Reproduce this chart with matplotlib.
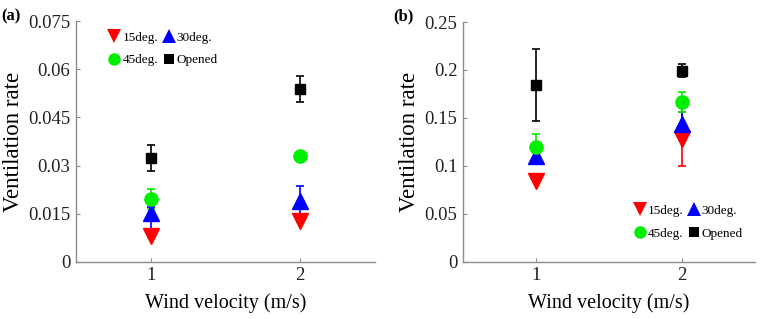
import matplotlib
matplotlib.use("Agg")
import matplotlib.pyplot as plt
from matplotlib.lines import Line2D

plt.rcParams['font.family'] = ['Liberation Serif', 'DejaVu Serif']

velocity = [1, 2]
labels = ['15deg.', '30deg.', '45deg.', 'Opened']
colors = ['#ff0000', '#0000ff', '#00ee00', '#000000']
markers = ['v', '^', 'o', 's']
msizes = [11, 11, 9.5, 7.5]

# Panel (a)
a_vals = {
    '15deg.': [0.0080, 0.0127],
    '30deg.': [0.0152, 0.0190],
    '45deg.': [0.0196, 0.0330],
    'Opened': [0.0324, 0.0538],
}
a_err_lo = {
    '15deg.': [0.0003, 0.0003],
    '30deg.': [0.0058, 0.0045],
    '45deg.': [0.0030, 0.0010],
    'Opened': [0.0040, 0.0040],
}
a_err_hi = {
    '15deg.': [0.0003, 0.0003],
    '30deg.': [0.0018, 0.0047],
    '45deg.': [0.0030, 0.0010],
    'Opened': [0.0040, 0.0040],
}
a_yticks = [0, 0.015, 0.03, 0.045, 0.06, 0.075]
a_yticklabels = ['0', '0.015', '0.03', '0.045', '0.06', '0.075']

# Panel (b)
b_vals = {
    '15deg.': [0.0840, 0.1280],
    '30deg.': [0.1100, 0.1440],
    '45deg.': [0.1200, 0.1665],
    'Opened': [0.1840, 0.1990],
}
b_err = {
    '15deg.': [0.0010, 0.0285],
    '30deg.': [0.0080, 0.0170],
    '45deg.': [0.0135, 0.0105],
    'Opened': [0.0375, 0.0068],
}
b_yticks = [0, 0.05, 0.1, 0.15, 0.2, 0.25]
b_yticklabels = ['0', '0.05', '0.1', '0.15', '0.2', '0.25']

xticks = [1, 2]

fig = plt.figure(figsize=(7.67, 3.19), dpi=100)
ax_a = fig.add_axes([0.099, 0.179, 0.390, 0.755])
ax_b = fig.add_axes([0.6037, 0.179, 0.381, 0.752])

def style(ax, yticks, yticklabels, ymax):
    ax.set_xlim(0.5, 2.5)
    ax.set_ylim(0, ymax)
    ax.set_xticks(xticks)
    ax.set_xticklabels([str(v) for v in xticks])
    ax.set_yticks(yticks)
    ax.set_yticklabels(yticklabels)
    for s in ['top', 'right']:
        ax.spines[s].set_visible(False)
    for s in ['left', 'bottom']:
        ax.spines[s].set_color('#8c8c8c')
        ax.spines[s].set_linewidth(1.0)
    ax.tick_params(direction='in', length=3, color='#8c8c8c', labelsize=13.5,
                   labelcolor='#222222', pad=4)
    ax.set_ylabel('Ventilation rate', fontsize=16.5, labelpad=3)
    ax.set_xlabel('Wind velocity (m/s)', fontsize=14.5, labelpad=6)

handles = []
for lab, c, m, ms in zip(labels, colors, markers, msizes):
    ax_a.errorbar(velocity, a_vals[lab], yerr=[a_err_lo[lab], a_err_hi[lab]],
                  fmt=m, color=c, ecolor=c, mec=c, mfc=c, markersize=ms,
                  capsize=3, elinewidth=1.2, capthick=1.2)
    ax_b.errorbar(velocity, b_vals[lab], yerr=b_err[lab],
                  fmt=m, color=c, ecolor=c, mec=c, mfc=c, markersize=ms,
                  capsize=3, elinewidth=1.2, capthick=1.2)
    handles.append(Line2D([], [], linestyle='none', marker=m, color=c,
                          markersize=ms * 0.95, markeredgewidth=0, label=lab))

style(ax_a, a_yticks, a_yticklabels, 0.075)
style(ax_b, b_yticks, b_yticklabels, 0.25)

order = [0, 2, 1, 3]
leg_h = [handles[i] for i in order]
for ax, loc, anchor in [(ax_a, 'upper left', (0.08, 0.99)),
                        (ax_b, 'lower right', (0.985, 0.06))]:
    ax.legend(handles=leg_h, loc=loc, bbox_to_anchor=anchor, ncol=2,
              frameon=False, fontsize=9.5, handlelength=1.0,
              handletextpad=0.1, columnspacing=0.3, labelspacing=0.8,
              borderaxespad=0.2)

fig.text(0.002, 0.975, '(a)', fontsize=12, fontweight='bold', va='top', ha='left')
fig.text(0.513, 0.975, '(b)', fontsize=12, fontweight='bold', va='top', ha='left')

fig.savefig('out.png', dpi=100)
